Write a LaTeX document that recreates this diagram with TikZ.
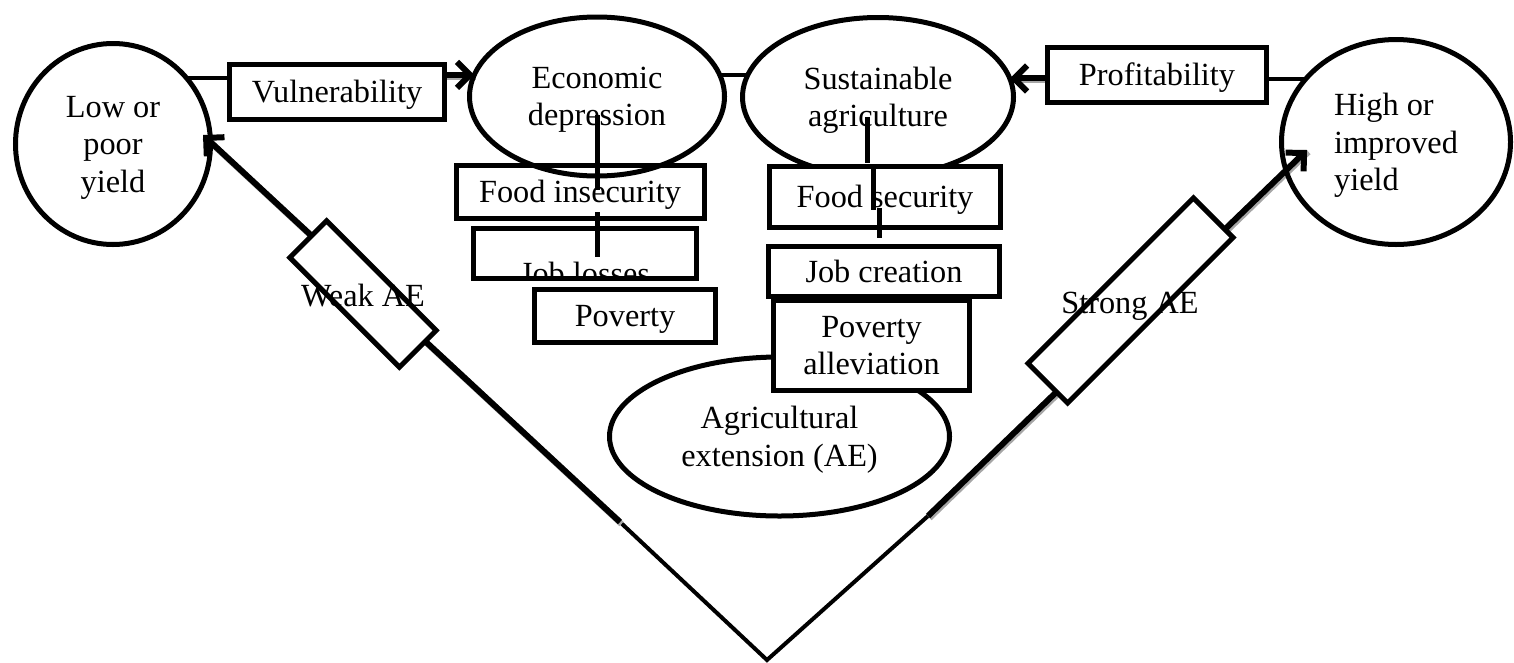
\documentclass[tikz,border=0pt]{standalone}
\usepackage{fontspec}
\setmainfont{Liberation Serif}
\usetikzlibrary{shapes.geometric,arrows.meta,backgrounds}
\begin{document}
\begin{tikzpicture}[x=1pt,y=-1pt,
  every node/.style={font=\fontsize{32.3pt}{37.5pt}\selectfont, inner sep=0pt, outer sep=0pt},
  box/.style={draw, line width=5pt, fill=white, rectangle, text height=21.5pt, text depth=0pt},
  mbox/.style={draw, line width=5pt, fill=white, rectangle, align=center, text depth=0pt},
  ell/.style={draw, line width=5pt, ellipse, align=center, text depth=0pt},
  txt/.style={text height=21.5pt, text depth=0pt},
  thinline/.style={line width=4pt},
  thickline/.style={line width=6pt},
  stub/.style={line width=5pt},
  tip/.style={-{Straight Barb[length=13pt,width=26pt]}},
  shadowline/.style={line width=6pt, draw=black!35, transform canvas={shift={(1.5pt,-2pt)}}},
]
\useasboundingbox (0,0) rectangle (1514,662);

% yield circles and ellipses
\node[ell, minimum width=195pt, minimum height=201pt] (low) at (113,144) {Low or\\poor\\yield};
\node[ell, minimum width=229pt, minimum height=205pt, align=left] (high) at (1396,142) {High or\\improved\\yield};
\node[ell, minimum width=271pt, minimum height=159pt] (sust) at (878,97) {Sustainable\\agriculture};
\node[ell, minimum width=340pt, minimum height=159pt] (ae) at (779.5,436.5) {Agricultural\\extension (AE)};

% outcome boxes
\node[box, minimum width=248pt, minimum height=53pt] (finsec) at (580,192) {Food insecurity};
\node[box, minimum width=223pt, minimum height=50pt] (jobloss) at (585,253.5) {};
\begin{scope}
  \clip (jobloss.south west) rectangle (jobloss.north east);
  \node[txt] (joblosstext) at (585,273.5) {Job losses};
\end{scope}
\draw[line width=5pt] (jobloss.south west) rectangle (jobloss.north east);
\node[box, minimum width=181pt, minimum height=53pt] (pov) at (625,316) {Poverty};
\node[box, minimum width=231pt, minimum height=61pt] (fsec) at (885,197) {Food security};
\node[box, minimum width=231pt, minimum height=50pt] (jobcr) at (884,271.5) {Job creation};
\node[mbox, minimum width=196pt, minimum height=90pt] (poval) at (871.5,345.5) {Poverty\\alleviation};

\node[ell, minimum width=255pt, minimum height=159pt] (econ) at (597,96.5) {Economic\\depression};

\node[box, minimum width=215pt, minimum height=55pt] (vul) at (337,92) {Vulnerability};
\node[box, minimum width=219pt, minimum height=55pt] (prof) at (1157,75) {Profitability};

% extension arms
\coordinate (apex) at (767,660);
\coordinate (wtail) at (620,522);
\coordinate (wtip) at (203,135);
\coordinate (stail) at (928,516);
\coordinate (stip) at (1307,150);
\node[draw, line width=5pt, fill=white, rectangle, rotate=-45, minimum width=155pt, minimum height=52pt] (wbox) at (363,294) {};
\node[txt] (wtext) at (363,296) {Weak AE};
\node[draw, line width=5pt, fill=white, rectangle, rotate=45, minimum width=234pt, minimum height=56pt] (sbox) at (1130.5,300.5) {};
\node[txt] (stext) at (1130,303) {Strong AE};

\begin{scope}[on background layer]
% top connectors
\draw[thinline] (low.42) -- (low.42 -| vul.west);
\draw[shadowline] (vul.east |- econ.170) -- (econ.170);
\draw[thickline, tip] (vul.east |- econ.170) -- (econ.170);
\draw[thinline] (econ.10) -- (econ.10 -| sust.170);
\draw[thinline] (high.145) -- (high.145 -| prof.east);
\draw[shadowline] (prof.west |- sust.8) -- (sust.8);
\draw[thickline, tip] (prof.west |- sust.8) -- (sust.8);
% arms
\draw[thinline, line join=miter] (wtail) -- (apex) -- (stail);
\draw[shadowline] (wtail) -- (wtip);
\draw[shadowline] (stail) -- (stip);
\draw[thickline, tip] (wtail) -- (wtip);
\draw[thickline, tip] (stail) -- (stip);
\end{scope}

% vertical stubs
\coordinate (l1a) at (597,115); \coordinate (l1b) at (597,190);
\coordinate (l2a) at (597,212); \coordinate (l2b) at (597,257);
\coordinate (r1a) at (867,117); \coordinate (r1b) at (867,163);
\coordinate (r2a) at (873,168); \coordinate (r2b) at (873,210);
\coordinate (r3a) at (879,208); \coordinate (r3b) at (879,238);
\draw[stub] (l1a) -- (l1b);
\draw[stub] (l2a) -- (l2b);
\draw[stub] (r1a) -- (r1b);
\draw[stub] (r2a) -- (r2b);
\draw[stub] (r3a) -- (r3b);
\end{tikzpicture}
\end{document}
